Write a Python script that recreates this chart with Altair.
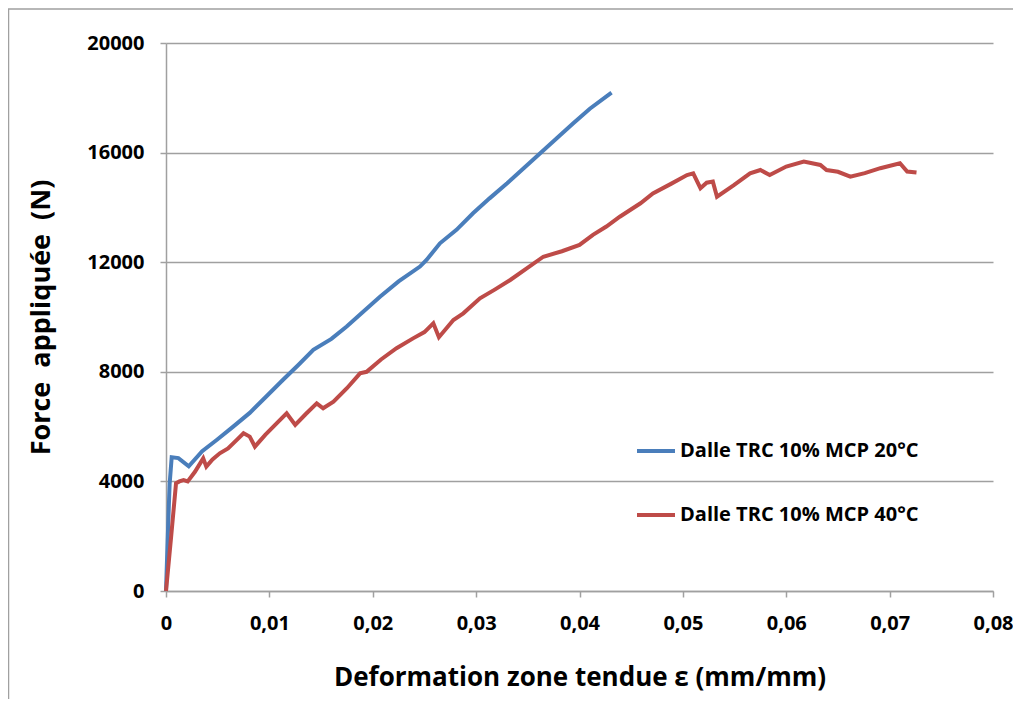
import altair as alt
import pandas as pd

# ---- data ----
blue_name = "Dalle TRC 10% MCP 20°C"
red_name = "Dalle TRC 10% MCP 40°C"

blue_x = [0, 0.0002, 0.00035, 0.00055, 0.0012, 0.0022, 0.0035, 0.0049, 0.0065, 0.0081,
          0.0097, 0.0113, 0.0128, 0.01425, 0.016, 0.01748, 0.0191, 0.0207, 0.0225,
          0.02457, 0.0252, 0.0265, 0.0281, 0.0297, 0.0313, 0.033, 0.0346, 0.0362,
          0.0378, 0.0394, 0.041, 0.0431]
blue_y = [0, 2300, 3900, 4880, 4850, 4550, 5100, 5510, 6000, 6500,
          7100, 7700, 8250, 8800, 9200, 9650, 10200, 10740, 11300,
          11840, 12080, 12690, 13180, 13785, 14330, 14880, 15430, 15975,
          16520, 17070, 17600, 18190]

red_x = [0, 0.0005, 0.00097, 0.0013, 0.0017, 0.0021, 0.0028, 0.0036, 0.0039, 0.0045,
         0.0052, 0.006, 0.0068, 0.0075, 0.0081, 0.0086, 0.0096, 0.0107, 0.01167, 0.0125,
         0.0135, 0.01458, 0.0152, 0.0162, 0.0175, 0.01877, 0.0194, 0.0208, 0.0223, 0.0239,
         0.025, 0.02586, 0.0264, 0.0278, 0.02876, 0.03037, 0.0318, 0.0333, 0.035, 0.0365,
         0.0383, 0.04, 0.0413, 0.0426, 0.0439, 0.0459, 0.0471, 0.0488, 0.0504, 0.051,
         0.0517, 0.0523, 0.0529, 0.0533, 0.0549, 0.0565, 0.0575, 0.0584, 0.06, 0.0617,
         0.0633, 0.0639, 0.065, 0.0662, 0.0676, 0.0691, 0.071, 0.0717, 0.0726]
red_y = [0, 2000, 3930, 4000, 4050, 4000, 4350, 4840, 4540, 4800,
         5025, 5200, 5500, 5755, 5635, 5270, 5700, 6120, 6485, 6060,
         6450, 6850, 6670, 6910, 7400, 7945, 8000, 8450, 8860, 9220,
         9450, 9770, 9260, 9890, 10135, 10680, 11000, 11350, 11800, 12200,
         12400, 12630, 13000, 13300, 13660, 14150, 14510, 14850, 15180, 15240,
         14700, 14900, 14940, 14390, 14800, 15240, 15365, 15180, 15490, 15670,
         15550, 15365, 15300, 15120, 15250, 15430, 15610, 15310, 15270]

x_ticks = [0, 0.01, 0.02, 0.03, 0.04, 0.05, 0.06, 0.07, 0.08]
y_ticks = [0, 4000, 8000, 12000, 16000, 20000]

blue_color = "#4A7EBB"
red_color = "#BE4B48"

df = pd.concat([
    pd.DataFrame({"x": blue_x, "y": blue_y, "serie": blue_name, "i": range(len(blue_x))}),
    pd.DataFrame({"x": red_x, "y": red_y, "serie": red_name, "i": range(len(red_x))}),
])

FONT = "Open Sans"
GRID = "#A0A0A0"

frame = alt.Chart(pd.DataFrame({"a": [0]})).mark_rect(
    fillOpacity=0, stroke=GRID, strokeWidth=1.5, clip=False
).encode(
    x=alt.value(-157.5), x2=alt.value(900), y=alt.value(-34), y2=alt.value(720)
)

lines = alt.Chart(df).mark_line(strokeWidth=4, clip=False).encode(
    x=alt.X("x:Q",
            scale=alt.Scale(domain=[0, 0.08], nice=False, zero=False),
            axis=alt.Axis(
                values=x_ticks,
                labelExpr="datum.value == 0 ? '0' : replace(format(datum.value, '.2f'), '.', ',')",
                title="Deformation zone tendue ε (mm/mm)",
                grid=False, tickSize=6, labelPadding=16, titlePadding=31,
                labelFlush=False,
            )),
    y=alt.Y("y:Q",
            scale=alt.Scale(domain=[0, 20000], nice=False),
            axis=alt.Axis(
                values=y_ticks, format="d",
                title="Force\u00a0 appliquée\u00a0 (N)",
                grid=True, tickSize=6, labelPadding=16, titlePadding=31,
                labelFlush=False,
            )),
    color=alt.Color("serie:N",
                    scale=alt.Scale(domain=[blue_name, red_name], range=[blue_color, red_color]),
                    legend=alt.Legend(
                        title=None, orient="none", legendX=469, legendY=387,
                        symbolType="stroke", symbolSize=1444, symbolStrokeWidth=4,
                        labelFont=FONT, labelFontSize=20, labelFontWeight="bold",
                        labelColor="black", rowPadding=33, padding=0, labelOffset=3,
                        labelLimit=400,
                    )),
    order="i:Q",
)

chart = alt.layer(frame, lines).properties(
    width=827, height=548,
    padding={"left": 158, "top": 35, "right": 20, "bottom": 108},
    autosize=alt.AutoSizeParams(type="none"),
).configure_view(stroke=None).configure_axis(
    labelFont=FONT, labelFontSize=20, labelFontWeight="bold", labelColor="black",
    titleFont=FONT, titleFontWeight="bold", titleColor="black",
    domainColor=GRID, domainWidth=1.5, tickColor=GRID, tickWidth=1.5,
    gridColor=GRID, gridWidth=1.5,
).configure_axisX(titleFontSize=26).configure_axisY(titleFontSize=27)

chart.save("out.html", embed_options={"renderer": "svg", "actions": False})
